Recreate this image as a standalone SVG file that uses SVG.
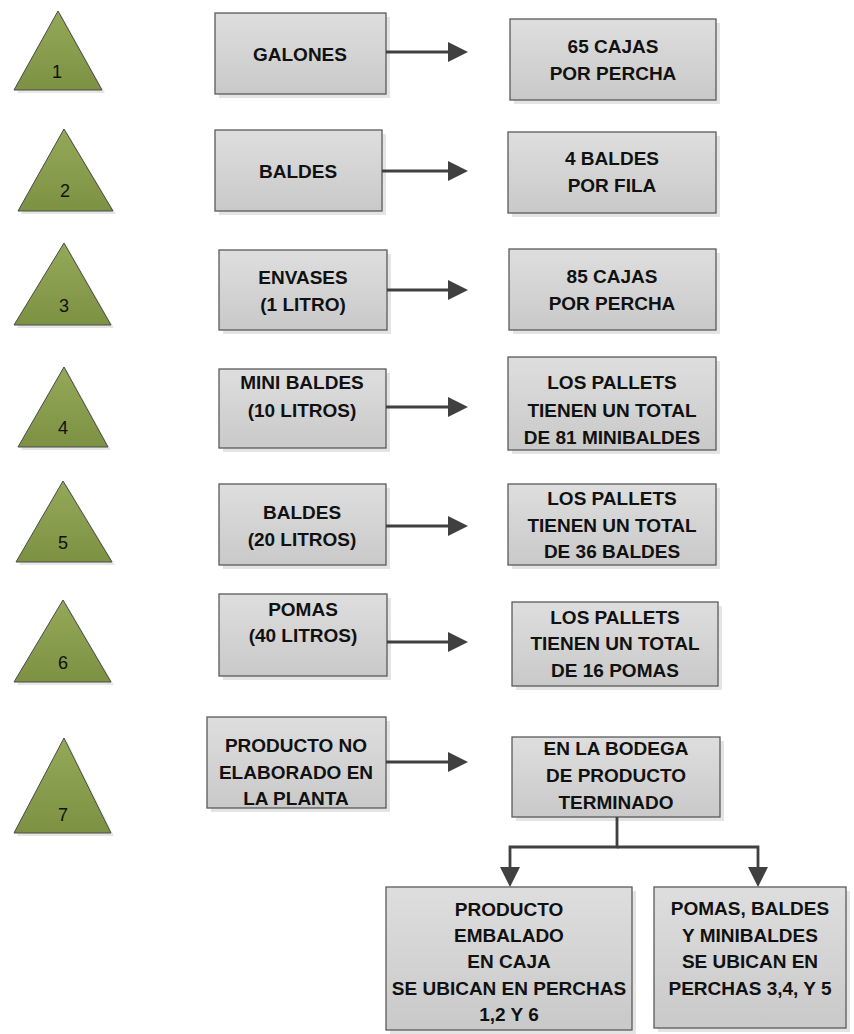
<svg xmlns="http://www.w3.org/2000/svg" width="854" height="1034" viewBox="0 0 854 1034">
<defs>
<linearGradient id="gBox" x1="0" y1="0" x2="0" y2="1">
<stop offset="0" stop-color="#dedede"/>
<stop offset="1" stop-color="#c9c9c9"/>
</linearGradient>
<linearGradient id="gTri" x1="0" y1="0" x2="0" y2="1">
<stop offset="0" stop-color="#93a958"/>
<stop offset="1" stop-color="#7d9142"/>
</linearGradient>
<marker id="ah" markerUnits="userSpaceOnUse" markerWidth="20" markerHeight="20" viewBox="0 0 20 20" refX="0" refY="10" orient="auto">
<path d="M0,0 L20,10 L0,20 Z" fill="#404040"/>
</marker>
</defs>
<style>
.box{fill:url(#gBox);stroke:#5a5a5a;stroke-width:1.3}
.sh{fill:#e4e4e4}
.tri{fill:url(#gTri);stroke:#4a4a4a;stroke-width:1}
.tsh{fill:#e6e6e6}
.t{font-family:"Liberation Sans",Arial,sans-serif;font-weight:bold;font-size:19px;fill:#111;text-anchor:middle}
.n{font-family:"Liberation Sans",Arial,sans-serif;font-size:18px;fill:#111;text-anchor:middle}
.c{fill:none;stroke:#404040;stroke-width:2.8}
</style>

<g id="tri1"><polygon class="tsh" points="61,14 17,93 105,93"/><polygon class="tri" points="58,11 14,90 102,90"/><text class="n" x="57" y="78">1</text></g>
<g id="tri2"><polygon class="tsh" points="67,132 21,214 116,214"/><polygon class="tri" points="64,129 18,211 113,211"/><text class="n" x="65" y="197">2</text></g>
<g id="tri3"><polygon class="tsh" points="67,246 17,328 114,328"/><polygon class="tri" points="64,243 14,325 111,325"/><text class="n" x="64" y="312">3</text></g>
<g id="tri4"><polygon class="tsh" points="67,370 21,450 111,450"/><polygon class="tri" points="64,367 18,447 108,447"/><text class="n" x="63" y="434">4</text></g>
<g id="tri5"><polygon class="tsh" points="66,484 19,565 115,565"/><polygon class="tri" points="63,481 16,562 112,562"/><text class="n" x="63" y="549">5</text></g>
<g id="tri6"><polygon class="tsh" points="66,603 17,685 114,685"/><polygon class="tri" points="63,600 14,682 111,682"/><text class="n" x="63" y="669">6</text></g>
<g id="tri7"><polygon class="tsh" points="67,741 17,836 114,836"/><polygon class="tri" points="64,738 14,833 111,833"/><text class="n" x="63" y="821">7</text></g>

<g id="galones"><rect class="sh" x="219" y="17" width="171" height="81"/><rect class="box" x="215" y="13" width="171" height="81"/><text class="t" x="300" y="61">GALONES</text></g>
<g id="cajas65"><rect class="sh" x="514" y="23" width="206" height="81"/><rect class="box" x="510" y="19" width="206" height="81"/><text class="t" x="613" y="53">65 CAJAS</text><text class="t" x="613" y="80">POR PERCHA</text></g>

<g id="baldes"><rect class="sh" x="219" y="134" width="167" height="81"/><rect class="box" x="215" y="130" width="167" height="81"/><text class="t" x="298" y="178">BALDES</text></g>
<g id="baldes4"><rect class="sh" x="512" y="136" width="208" height="81"/><rect class="box" x="508" y="132" width="208" height="81"/><text class="t" x="612" y="165">4 BALDES</text><text class="t" x="612" y="192">POR FILA</text></g>

<g id="envases"><rect class="sh" x="223" y="254" width="168" height="80"/><rect class="box" x="219" y="250" width="168" height="80"/><text class="t" x="303" y="284">ENVASES</text><text class="t" x="303" y="311">(1 LITRO)</text></g>
<g id="cajas85"><rect class="sh" x="513" y="253" width="207" height="81"/><rect class="box" x="509" y="249" width="207" height="81"/><text class="t" x="612" y="283">85 CAJAS</text><text class="t" x="612" y="310">POR PERCHA</text></g>

<g id="minibaldes"><rect class="sh" x="223" y="373" width="167" height="79"/><rect class="box" x="219" y="369" width="167" height="79"/><text class="t" x="302" y="389">MINI BALDES</text><text class="t" x="302" y="417">(10 LITROS)</text></g>
<g id="pallets81"><rect class="sh" x="512" y="361" width="208" height="93"/><rect class="box" x="508" y="357" width="208" height="93"/><text class="t" x="612" y="389">LOS PALLETS</text><text class="t" x="612" y="417">TIENEN UN TOTAL</text><text class="t" x="612" y="444">DE 81 MINIBALDES</text></g>

<g id="baldes20"><rect class="sh" x="223" y="488" width="167" height="81"/><rect class="box" x="219" y="484" width="167" height="81"/><text class="t" x="302" y="519">BALDES</text><text class="t" x="302" y="546">(20 LITROS)</text></g>
<g id="pallets36"><rect class="sh" x="512" y="488" width="208" height="81"/><rect class="box" x="508" y="484" width="208" height="81"/><text class="t" x="612" y="505">LOS PALLETS</text><text class="t" x="612" y="532">TIENEN UN TOTAL</text><text class="t" x="612" y="558">DE 36 BALDES</text></g>

<g id="pomas40"><rect class="sh" x="223" y="598" width="168" height="82"/><rect class="box" x="219" y="594" width="168" height="82"/><text class="t" x="303" y="616">POMAS</text><text class="t" x="303" y="642">(40 LITROS)</text></g>
<g id="pallets16"><rect class="sh" x="516" y="606" width="206" height="84"/><rect class="box" x="512" y="602" width="206" height="84"/><text class="t" x="615" y="624">LOS PALLETS</text><text class="t" x="615" y="650">TIENEN UN TOTAL</text><text class="t" x="615" y="677">DE 16 POMAS</text></g>

<g id="noelaborado"><rect class="sh" x="211" y="721" width="179" height="91"/><rect class="box" x="207" y="717" width="179" height="91"/><text class="t" x="296" y="752">PRODUCTO NO</text><text class="t" x="296" y="779">ELABORADO EN</text><text class="t" x="296" y="805">LA PLANTA</text></g>
<g id="bodega"><rect class="sh" x="516" y="741" width="208" height="80"/><rect class="box" x="512" y="737" width="208" height="80"/><text class="t" x="616" y="755">EN LA BODEGA</text><text class="t" x="616" y="782">DE PRODUCTO</text><text class="t" x="616" y="809">TERMINADO</text></g>

<g id="embalado"><rect class="sh" x="390" y="891" width="246" height="143"/><rect class="box" x="386" y="887" width="246" height="143"/><text class="t" x="509" y="916">PRODUCTO</text><text class="t" x="509" y="942">EMBALADO</text><text class="t" x="509" y="968">EN CAJA</text><text class="t" x="509" y="995">SE UBICAN EN PERCHAS</text><text class="t" x="509" y="1021">1,2 Y 6</text></g>
<g id="pomasbaldes"><rect class="sh" x="658" y="891" width="192" height="141"/><rect class="box" x="654" y="887" width="192" height="141"/><text class="t" x="750" y="915">POMAS, BALDES</text><text class="t" x="750" y="942">Y MINIBALDES</text><text class="t" x="750" y="968">SE UBICAN EN</text><text class="t" x="750" y="995">PERCHAS 3,4, Y 5</text></g>

<g id="connectors">
<line class="c" x1="386" y1="52" x2="448" y2="52" marker-end="url(#ah)"/>
<line class="c" x1="382" y1="171" x2="448" y2="171" marker-end="url(#ah)"/>
<line class="c" x1="387" y1="290" x2="448" y2="290" marker-end="url(#ah)"/>
<line class="c" x1="386" y1="407" x2="448" y2="407" marker-end="url(#ah)"/>
<line class="c" x1="386" y1="526" x2="448" y2="526" marker-end="url(#ah)"/>
<line class="c" x1="387" y1="642" x2="448" y2="642" marker-end="url(#ah)"/>
<line class="c" x1="386" y1="762" x2="448" y2="762" marker-end="url(#ah)"/>
<path class="c" d="M617,817 V847 H510 V867" marker-end="url(#ah)"/>
<path class="c" d="M617,847 H758 V867" marker-end="url(#ah)"/>
</g>
</svg>
